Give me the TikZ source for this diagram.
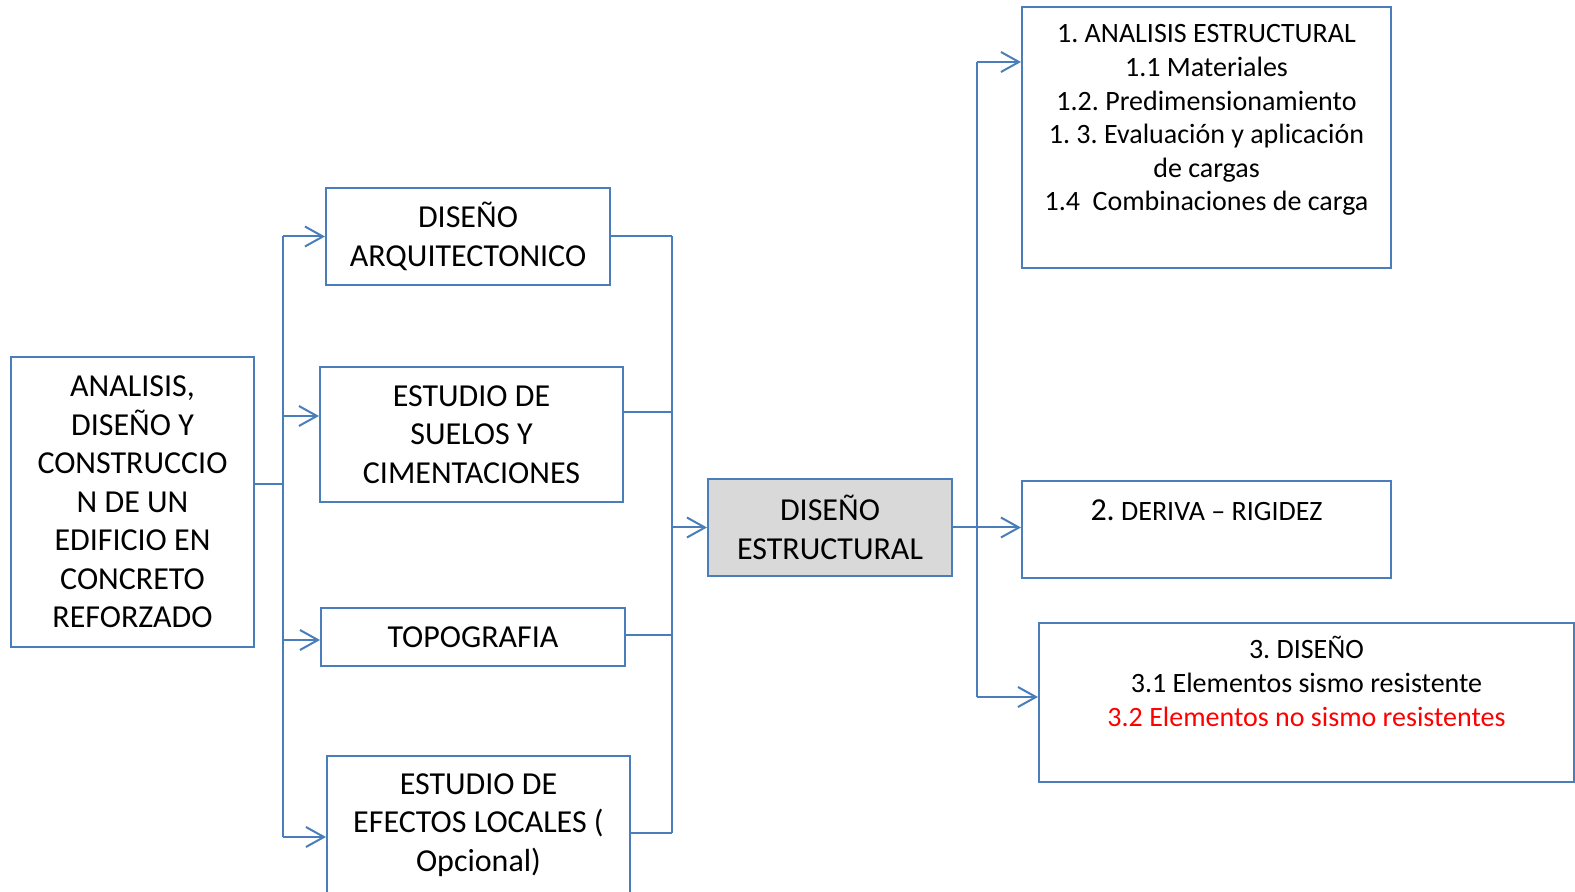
\documentclass[tikz,border=0pt]{standalone}
\usepackage{fontspec}
\setmainfont{Carlito}
\usepackage{xcolor}
\usetikzlibrary{arrows.meta}
\frenchspacing
\definecolor{lineblue}{HTML}{4A7EBB}
\definecolor{boxgray}{HTML}{D9D9D9}
\definecolor{itemred}{HTML}{FF0000}
\tikzset{
  box/.style   = {rectangle, draw=lineblue, line width=1pt, inner sep=0pt, align=center},
  stage/.style = {box, font=\fontsize{16}{19.25}\selectfont},
  topic/.style = {box, anchor=north, font=\fontsize{14}{16.8}\selectfont},
  link/.style  = {draw=lineblue, line width=1pt},
  flow/.style  = {link, -{Straight Barb[length=9pt, width=10pt, line width=1pt]}},
}

\begin{document}
\begin{tikzpicture}[x=0.5pt, y=-0.5pt]
  \useasboundingbox (0,0) rectangle (1575,892);
  % left column
  \node[stage, minimum width=121.5pt, minimum height=145pt] (edif) at (132.5,502)
    {ANALISIS,\\ DISEÑO Y\\ CONSTRUCCIO\\ N DE UN\\ EDIFICIO EN\\ CONCRETO\\ REFORZADO};
  \node[stage, minimum width=142pt, minimum height=48.5pt] (arq) at (468,236.5)
    {DISEÑO\\ ARQUITECTONICO};
  \node[stage, minimum width=151.5pt, minimum height=67.5pt] (suelo) at (471.5,434.5)
    {ESTUDIO DE\\ SUELOS Y\\ CIMENTACIONES};
  \node[stage, minimum width=152pt, minimum height=29pt] (topo) at (473,637) {TOPOGRAFIA};
  \node[stage, minimum width=151.5pt, minimum height=69pt] (efect) at (478.5,825)
    {ESTUDIO DE\\ EFECTOS LOCALES (\\ Opcional)};
  \node[stage, fill=boxgray, minimum width=122pt, minimum height=48.5pt] (estr) at (830,527.5)
    {DISEÑO\\ ESTRUCTURAL};
  % right column
  \node[topic, minimum width=184.5pt, text height=102pt, text depth=28.5pt] (anal) at (1206.5,6)
    {1. ANALISIS ESTRUCTURAL\\ 1.1 Materiales\\ 1.2. Predimensionamiento\\
     1. 3. Evaluación y aplicación\\ de cargas\\ 1.4\ \ Combinaciones de carga};
  \node[topic, minimum width=184.5pt, text height=20pt, text depth=28.5pt] (deriva) at (1206.5,480)
    {{\fontsize{16}{19}\selectfont 2.} DERIVA – RIGIDEZ};
  \node[topic, minimum width=267.5pt, text height=51.5pt, text depth=28pt] (disen) at (1306.5,622)
    {3. DISEÑO\\ 3.1 Elementos sismo resistente\\
     \textcolor{itemred}{3.2 Elementos no sismo resistentes}};

  % split to the studies
  \coordinate (ltop) at (283,236.5);
  \coordinate (lbot) at (283,837);
  \draw[link] ([yshift=9pt]edif.east) -- ([yshift=9pt]edif.east -| ltop);
  \draw[link] (ltop) -- (lbot);
  \foreach \part/\dy in {arq/0, suelo/9.25, topo/-1.5, efect/-6}
    \draw[flow] ([yshift=\dy pt]\part.west -| ltop) -- ([yshift=\dy pt]\part.west);

  % join into the structural design
  \coordinate (rtop) at (672,236.5);
  \coordinate (rbot) at (672,833);
  \draw[link] (rtop) -- (rbot);
  \foreach \part/\dy in {arq/0, suelo/11.25, topo/1, efect/-4}
    \draw[link] ([yshift=\dy pt]\part.east) -- ([yshift=\dy pt]\part.east -| rtop);
  \draw[flow] (estr.west -| rtop) -- (estr.west);

  % structural design branches
  \coordinate (btop) at (977,62);
  \coordinate (bbot) at (977,697);
  \draw[link] (btop) -- (bbot);
  \draw[flow] (btop) -- (btop -| anal.west);
  \draw[flow] (estr.east) -- (estr.east -| deriva.west);
  \draw[flow] (bbot) -- (bbot -| disen.west);
\end{tikzpicture}
\end{document}
